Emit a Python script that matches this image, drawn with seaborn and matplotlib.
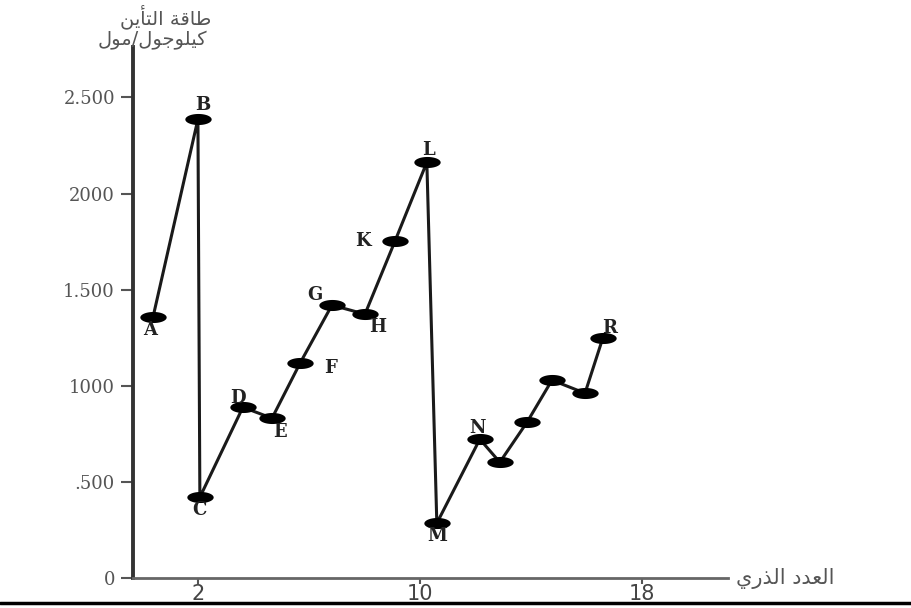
import numpy as np
import pandas as pd
import seaborn as sns
import matplotlib.pyplot as plt
from matplotlib.lines import Line2D

# values (x = position along the atomic-number axis)
atomic_pos = [0.38, 2.0, 2.07, 3.62, 4.67, 5.68, 6.83, 8.02, 9.10, 10.25,
              10.61, 12.16, 12.88, 13.86, 14.76, 15.95, 16.59]
energy = [1357, 2387, 421, 889, 832, 1118, 1420, 1373, 1752, 2163,
          286, 723, 603, 811, 1030, 962, 1248]
point_labels = ['A', 'B', 'C', 'D', 'E', 'F', 'G', 'H', 'K', 'L',
                'M', 'N', '', '', '', '', 'R']

y_ticks = [0, 500, 1000, 1500, 2000, 2500]
y_tick_labels = ['0', '.500', '1000', '1.500', '2000', '2.500']
x_ticks = [2, 10, 18]

# Arabic text, pre-shaped (presentation forms, visual order) since matplotlib does no shaping
# logical: طاقة التأين
y_title_1 = '\uFEE6\uFEF3\uFE84\uFE98\uFEDF\uFE8D \uFE94\uFED7\uFE8E\uFEC3'
# logical: كيلوجول/مول
y_title_2 = '\uFEDD\uFEEE\uFEE3/\uFEDD\uFEEE\uFE9F\uFEEE\uFEE0\uFEF4\uFEDB'
# logical: العدد الذري
x_title = '\uFEF1\uFEAD\uFEAC\uFEDF\uFE8D \uFEA9\uFEAA\uFECC\uFEDF\uFE8D'

df = pd.DataFrame({'pos': atomic_pos, 'energy': energy, 'label': point_labels})

sns.set_style('white')
plt.rcParams['font.family'] = ['DejaVu Sans']

fig = plt.figure(figsize=(9.11, 6.08), dpi=100)
ax = fig.add_axes([0.146, 0.049, 0.653, 0.873])

# flat ellipse marker
t = np.linspace(0, 2 * np.pi, 40)
ellipse = list(zip(np.cos(t), 0.42 * np.sin(t)))

sns.lineplot(data=df, x='pos', y='energy', sort=False, ax=ax,
             color='#1a1a1a', linewidth=2.2, marker=ellipse, markersize=19,
             markeredgewidth=0, markerfacecolor='black')

offsets = {'A': (-2, -9), 'B': (3.5, 10.5), 'C': (0, -9), 'D': (-3.5, 7),
           'E': (6, -10), 'F': (22, -3.5), 'G': (-12, 7), 'H': (9, -9.5),
           'K': (-23, 0), 'L': (1, 8.5), 'M': (0, -9.5), 'N': (-2, 8), 'R': (5, 7)}
for _, row in df.iterrows():
    if row['label']:
        ax.annotate(row['label'], (row['pos'], row['energy']),
                    xytext=offsets[row['label']], textcoords='offset points',
                    ha='center', va='center', fontsize=13, fontweight='bold',
                    family='DejaVu Serif', color='#222222')

ax.set_xlim(-0.34, 21.1)
ax.set_ylim(0, 2760)
ax.set_yticks(y_ticks)
ax.set_yticklabels(y_tick_labels, family='DejaVu Serif', fontsize=13, color='#555555')
ax.set_xticks(x_ticks)
ax.set_xticklabels([str(v) for v in x_ticks], fontsize=15, color='#444444')
ax.tick_params(axis='y', direction='out', length=9, width=1.5, color='#555555', pad=4, left=True)
ax.tick_params(axis='x', direction='out', length=4, width=1.5, color='#555555', pad=0, bottom=True)
ax.set_xlabel('')
ax.set_ylabel('')

for side in ['top', 'right']:
    ax.spines[side].set_visible(False)
ax.spines['left'].set_linewidth(2.8)
ax.spines['left'].set_color('#333333')
ax.spines['bottom'].set_linewidth(2)
ax.spines['bottom'].set_color('#666666')

fig.text(0.232, 0.972, y_title_1, ha='right', va='center', fontsize=14, color='#555555')
fig.text(0.228, 0.933, y_title_2, ha='right', va='center', fontsize=14, color='#555555')
fig.text(0.808, 0.049, x_title, ha='left', va='center', fontsize=15, color='#555555')

# black rule along the bottom of the page
fig.add_artist(Line2D([0, 1], [0.008, 0.008], transform=fig.transFigure,
                      color='black', linewidth=2.5))

fig.savefig('out.png', dpi=100)
